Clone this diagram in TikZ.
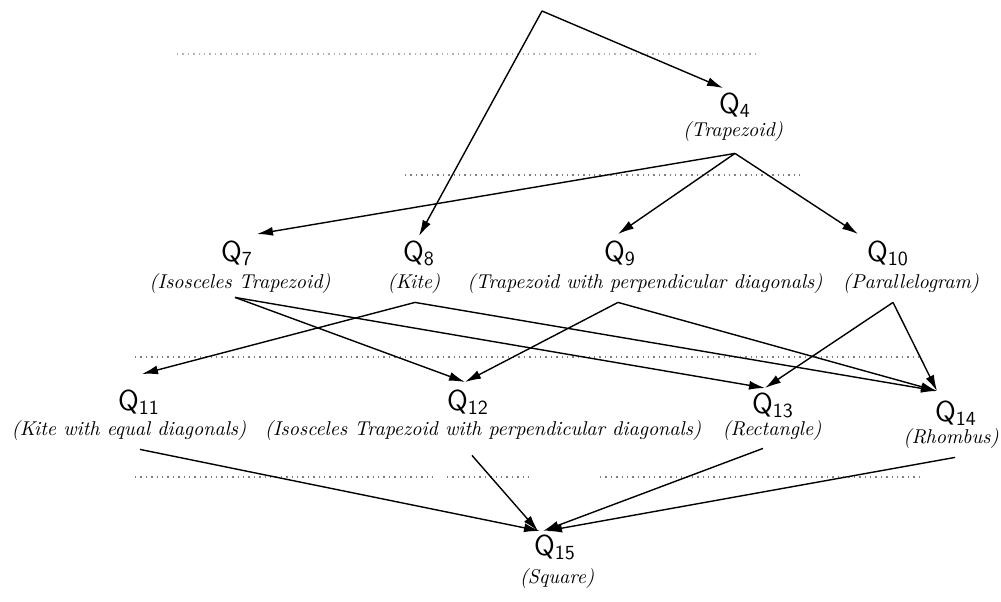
\documentclass[tikz,border=0pt]{standalone}
\usetikzlibrary{arrows.meta,
                positioning}
\tikzset{quad/.style =
   {inner sep=0pt,
    anchor=base,
    font=\sffamily\Large}}
\tikzset{quadname/.style =
   {inner sep=0pt,
    anchor=base,
    font=\itshape}}
\tikzset{arrow/.style = {draw, line width=0.7pt, -{Latex[length=8pt,width=4.5pt]}}}
\tikzset{level/.style = {draw=gray, dotted, line width=0.7pt}}

\begin{document}
\begin{tikzpicture}[x=0.5pt, y=-0.5pt]
    \useasboundingbox (0,0) rectangle (1001,601);

    % level lines
    \draw [level, draw=gray!60] (177,54) -- (760,54);
    \draw [level] (405,175) -- (800,175);
    \draw [level] (135,357) -- (923,357);
    \draw [level] (135,477) -- (433,477);
    \draw [level] (447,477) -- (530,477);
    \draw [level] (600,477) -- (922,477);

    \coordinate (apex) at (542,11);

    % quadrilaterals
    \node [quad] (q4) at (735,113) {Q$_{\mathsf{4}}$};
    \node [quadname] (q4t) at (733,136) {(Trapezoid)};

    \node [quad] (q7) at (237,261) {Q$_{\mathsf{7}}$};
    \node [quadname] (q7t) at (240,288) {(Isosceles Trapezoid)};

    \node [quad] (q8) at (419,261) {Q$_{\mathsf{8}}$};
    \node [quadname] (q8t) at (414,288) {(Kite)};

    \node [quad] (q9) at (620,261) {Q$_{\mathsf{9}}$};
    \node [quadname] (q9t) at (645,288) {(Trapezoid with perpendicular diagonals)};

    \node [quad] (q10) at (888,261) {Q$_{\mathsf{10}}$};
    \node [quadname] (q10t) at (911,288) {(Parallelogram)};

    \node [quad] (q11) at (139,410) {Q$_{\mathsf{11}}$};
    \node [quadname] (q11t) at (129,435) {(Kite with equal diagonals)};

    \node [quad] (q12) at (468,410) {Q$_{\mathsf{12}}$};
    \node [quadname] (q12t) at (483,435) {(Isosceles Trapezoid with perpendicular diagonals)};

    \node [quad] (q13) at (773,413) {Q$_{\mathsf{13}}$};
    \node [quadname] (q13t) at (772,435) {(Rectangle)};

    \node [quad] (q14) at (956,421) {Q$_{\mathsf{14}}$};
    \node [quadname] (q14t) at (951,443) {(Rhombus)};

    \node [quad] (q15) at (555,555) {Q$_{\mathsf{15}}$};
    \node [quadname] (q15t) at (557,583) {(Square)};

    % arrows
    \path [arrow] (apex) -- ([xshift=-6pt,yshift=2pt]q4.north);
    \path [arrow] (apex) -- ([yshift=2pt]q8.north);

    \path [arrow] ([xshift=1pt,yshift=-6pt]q4t.south) -- ([xshift=10pt,yshift=3pt]q7.north);
    \path [arrow] ([xshift=1pt,yshift=-6pt]q4t.south) -- ([xshift=-1pt,yshift=3pt]q9.north);
    \path [arrow] ([xshift=1pt,yshift=-6pt]q4t.south) -- ([xshift=-15pt,yshift=3pt]q10.north);

    \path [arrow] ([xshift=-2.5pt,yshift=-2pt]q7t.south) -- ([xshift=-1.5pt,yshift=3.5pt]q12.north);
    \path [arrow] ([xshift=-2.5pt,yshift=-2pt]q7t.south) -- ([xshift=-4pt,yshift=2pt]q13.north);
    \path [arrow] ([xshift=0.5pt,yshift=-4.5pt]q8t.south) -- ([xshift=1.5pt,yshift=7.5pt]q11.north);
    \path [arrow] ([xshift=0.5pt,yshift=-4.5pt]q8t.south) -- ([xshift=-9.5pt,yshift=4.5pt]q14.north);
    \path [arrow] ([xshift=-13.5pt,yshift=-4.5pt]q9t.south) -- ([xshift=-1.5pt,yshift=3.5pt]q12.north);
    \path [arrow] ([xshift=-13.5pt,yshift=-4.5pt]q9t.south) -- ([xshift=-9.5pt,yshift=4.5pt]q14.north);
    \path [arrow] ([xshift=-9pt,yshift=-4.5pt]q10t.south) -- ([xshift=-4pt,yshift=2pt]q13.north);
    \path [arrow] ([xshift=-9pt,yshift=-4.5pt]q10t.south) -- ([xshift=-9.5pt,yshift=4.5pt]q14.north);

    \path [arrow] ([xshift=5.5pt,yshift=-4.5pt]q11t.south) -- ([xshift=-7.5pt,yshift=1.5pt]q15.north);
    \path [arrow] ([xshift=-5.5pt,yshift=-7.5pt]q12t.south) -- ([xshift=-8.5pt,yshift=1.5pt]q15.north);
    \path [arrow] ([xshift=-4.5pt,yshift=-4pt]q13t.south) -- ([xshift=-6pt,yshift=1.5pt]q15.north);
    \path [arrow] ([xshift=2pt,yshift=-4.5pt]q14t.south) -- ([xshift=-4.5pt,yshift=1.5pt]q15.north);

\end{tikzpicture}
\end{document}
